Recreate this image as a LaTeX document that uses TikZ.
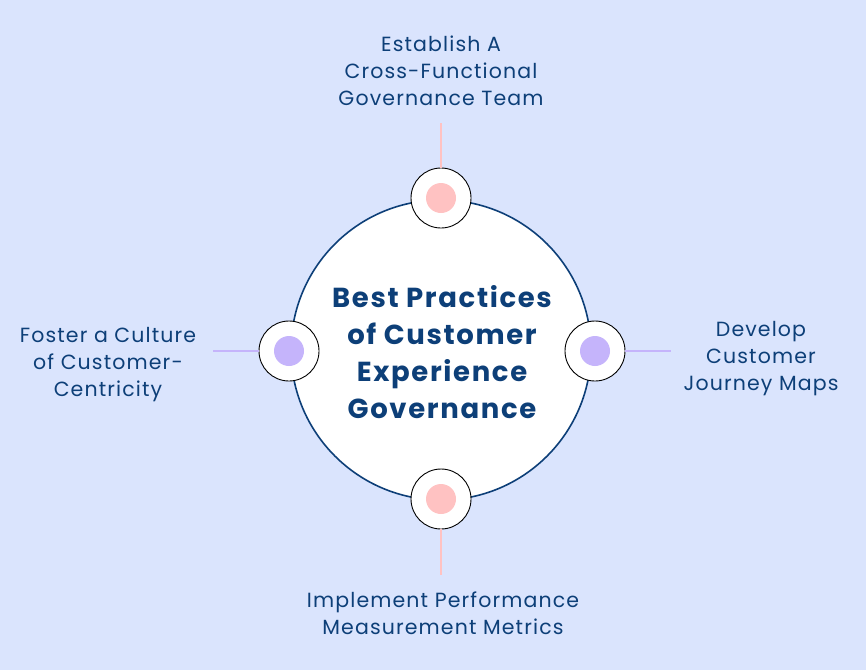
\documentclass[tikz,border=0pt]{standalone}
\usepackage{fontspec}
\setmainfont{Poppins}
\newfontfamily\lblfont[LetterSpace=5.5]{Poppins}
\newfontfamily\titlefont[LetterSpace=6]{Poppins}
\usetikzlibrary{positioning}
\definecolor{bgblue}{HTML}{DAE4FD}
\definecolor{navy}{HTML}{0D3F78}
\definecolor{pinkdot}{HTML}{FFC2C2}
\definecolor{lilac}{HTML}{C5B4FB}
\tikzset{
  hub/.style={circle,draw=navy,line width=1.6pt,fill=white,minimum size=300pt,inner sep=0pt},
  knob/.style={circle,draw=black,line width=0.9pt,fill=white,minimum size=60pt,inner sep=0pt},
  pinkdotstyle/.style={circle,fill=pinkdot,minimum size=30pt,inner sep=0pt},
  lilacdot/.style={circle,fill=lilac,minimum size=30pt,inner sep=0pt},
  lbl/.style={text=navy,align=center,font=\lblfont\fontsize{20.5}{27}\selectfont},
}
\begin{document}
\begin{tikzpicture}[x=1pt,y=-1pt]
    \fill[bgblue] (0,0) rectangle (866,670);
    \useasboundingbox (0,0) rectangle (866,670);
    \node[hub] (hub) at (441,350) {};
    \node[text=navy,align=center,font=\titlefont\fontsize{27.5}{37}\selectfont\bfseries] (title) at (442,352)
        {Best Practices\\of Customer\\Experience\\Governance};
    \node[knob] (top) at (441,198) {};
    \node[pinkdotstyle] at (top) {};
    \node[knob] (bottom) at (441,499) {};
    \node[pinkdotstyle] at (bottom) {};
    \node[knob] (left) at (289,351) {};
    \node[lilacdot] at (left) {};
    \node[knob] (right) at (595,351) {};
    \node[lilacdot] at (right) {};
    \coordinate (topend) at (441,123);
    \coordinate (bottomend) at (441,575);
    \coordinate (leftend) at (213,351);
    \coordinate (rightend) at (671,351);
    \draw[pinkdot,line width=1.2pt] (top) -- (topend);
    \draw[pinkdot,line width=1.2pt] (bottom) -- (bottomend);
    \draw[lilac,line width=1.2pt] (left) -- (leftend);
    \draw[lilac,line width=1.2pt] (right) -- (rightend);
    \node[lbl] (toptext) at (441,71) {Establish A\\Cross-Functional\\Governance Team};
    \node[lbl] (lefttext) at (108,365) {Foster a Culture\\of Customer-\\Centricity};
    \node[lbl] (righttext) at (761,359) {Develop\\Customer\\Journey Maps};
    \node[lbl] (bottomtext) at (443,613) {Implement Performance\\Measurement Metrics};
\end{tikzpicture}
\end{document}
